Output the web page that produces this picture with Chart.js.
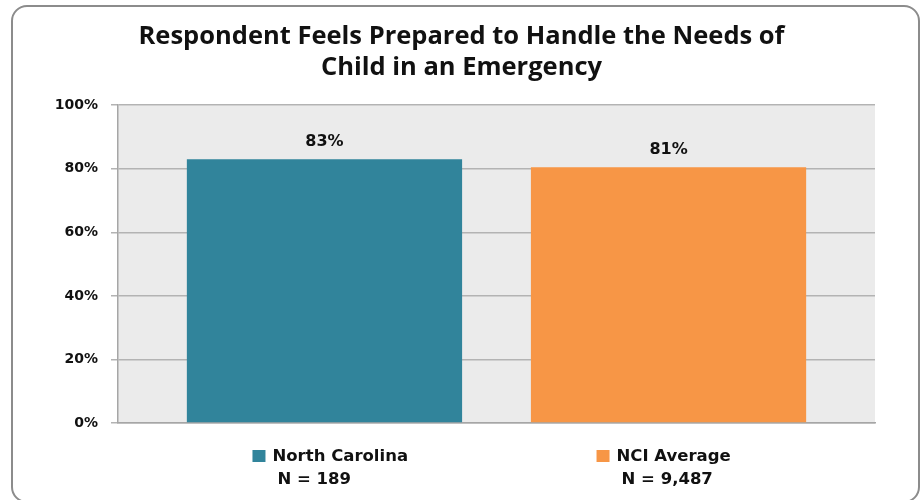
<!DOCTYPE html>
<html>
<head>
<meta charset="utf-8">
<script src="https://cdn.jsdelivr.net/npm/chart.js@4"></script>
<style>
    body { margin: 0; background: #fff; }
    #wrap { position: relative; width: 923px; height: 500px; }
    #marco { position: absolute; left: 11px; top: 5px; width: 909px; height: 498px; box-sizing: border-box;
             border: 2px solid #8c8c8c; border-radius: 16px; pointer-events: none; }
</style>
</head>
<body>
<div id="wrap">
    <canvas id="grafica" width="923" height="500"></canvas>
    <div id="marco"></div>
</div>
<script>
const titulo = ['Respondent Feels Prepared to Handle the Needs of', 'Child in an Emergency'];
const grupos = ['North Carolina', 'NCI Average'];
const muestras = ['N = 189', 'N = 9,487'];
const valores = [83, 80.5];
const etiquetas = ['83%', '81%'];
const colores = ['#31849b', '#f79646'];
const ticksY = [0, 20, 40, 60, 80, 100];

// fondo gris del area de trazado
const fondoArea = {
    id: 'fondoArea',
    beforeDraw(chart) {
        const { ctx, chartArea: a } = chart;
        ctx.save();
        ctx.fillStyle = '#ebebeb';
        ctx.fillRect(a.left, a.top, a.right - a.left, a.bottom - a.top);
        ctx.restore();
    }
};

// etiquetas encima de las barras y leyenda debajo de cada barra
const textos = {
    id: 'textos',
    afterDatasetsDraw(chart) {
        const ctx = chart.ctx;
        ctx.save();
        ctx.fillStyle = '#111';
        ctx.textBaseline = 'middle';
        chart.data.datasets.forEach((ds, i) => {
            const bar = chart.getDatasetMeta(i).data[0];
            ctx.font = 'bold 16px "DejaVu Sans"';
            ctx.textAlign = 'center';
            ctx.fillText(etiquetas[i], bar.x, bar.y - 17);

            const x0 = bar.x - 72;
            ctx.fillStyle = colores[i];
            ctx.fillRect(x0, 450, 13, 12);
            ctx.fillStyle = '#111';
            ctx.font = 'bold 16.5px "DejaVu Sans"';
            ctx.textAlign = 'left';
            ctx.fillText(grupos[i], x0 + 20, 457);
            ctx.fillText(muestras[i], x0 + 25, 480);
        });
        ctx.restore();
    }
};

new Chart(document.getElementById('grafica'), {
    type: 'bar',
    data: {
        labels: [''],
        datasets: grupos.map((g, i) => ({
            label: g,
            data: [valores[i]],
            backgroundColor: colores[i],
            categoryPercentage: 0.909,
            barPercentage: 0.8
        }))
    },
    options: {
        responsive: false,
        animation: false,
        layout: { padding: { left: 48, right: 48, top: 0, bottom: 69 } },
        scales: {
            x: {
                grid: { display: false },
                border: { color: '#a6a6a6', width: 1.5 },
                ticks: { display: false }
            },
            y: {
                min: 0,
                max: 100,
                afterBuildTicks: axis => { axis.ticks = ticksY.map(v => ({ value: v })); },
                afterFit: axis => { axis.width = 70; },
                grid: { color: '#b3b3b3', lineWidth: 1.5, tickLength: 7 },
                border: { color: '#a6a6a6', width: 1.5 },
                ticks: {
                    color: '#111',
                    padding: 13,
                    font: { family: 'DejaVu Sans', size: 14, weight: 'bold' },
                    callback: v => v + '%'
                }
            }
        },
        plugins: {
            legend: { display: false },
            tooltip: { enabled: false },
            title: {
                display: true,
                text: titulo,
                color: '#111',
                font: { family: 'Open Sans', size: 25.5, weight: 'bold', lineHeight: 1.22 },
                padding: { top: 21, bottom: 22 }
            }
        }
    },
    plugins: [fondoArea, textos]
});
</script>
</body>
</html>
